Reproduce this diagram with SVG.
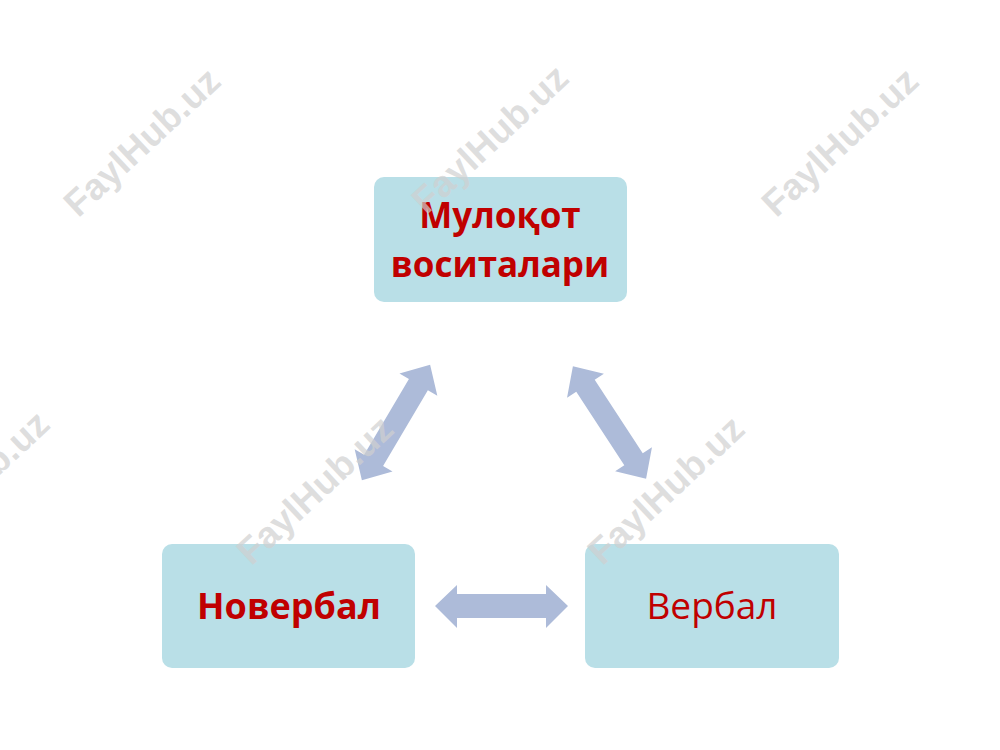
<svg xmlns="http://www.w3.org/2000/svg" width="1000" height="750" viewBox="0 0 1000 750">
<style>
.box{fill:#b9dfe7}
.lbl{font-family:"Open Sans","Noto Sans","DejaVu Sans",sans-serif;fill:#c00000;text-anchor:middle}
.b{font-weight:bold}
.arr{fill:#adbbd9}
.wm{font-family:"Liberation Sans","Arial",sans-serif;font-weight:bold;font-size:37px;fill:#d0d0d0;fill-opacity:0.7;text-anchor:middle;dominant-baseline:central}
</style>
<defs>
<path id="dbl" d="M -67 0 L -44 -22 L -44 -11 L 44 -11 L 44 -22 L 67 0 L 44 22 L 44 11 L -44 11 L -44 22 Z"/>
</defs>
<rect width="1000" height="750" fill="#ffffff"/>
<g id="node-top">
<rect class="box" x="374" y="177" width="253" height="125" rx="10"/>
<text class="lbl b" x="500" y="228" font-size="35">Мулоқот</text>
<text class="lbl b" x="500" y="277" font-size="35">воситалари</text>
</g>
<g id="node-left">
<rect class="box" x="162" y="544" width="253" height="124" rx="10"/>
<text class="lbl b" x="289" y="619" font-size="36">Новербал</text>
</g>
<g id="node-right">
<rect class="box" x="585" y="544" width="254" height="124" rx="10"/>
<text class="lbl" x="712" y="619" font-size="37">Вербал</text>
</g>
<g id="connectors">
<use class="arr" href="#dbl" transform="translate(396,422.5) rotate(-59.4)"/>
<use class="arr" href="#dbl" transform="translate(609.5,422.5) rotate(56.9)"/>
<path class="arr" d="M 435 606 L 457 585 L 457 594 L 546 594 L 546 585 L 568 606 L 546 628 L 546 618 L 457 618 L 457 628 Z"/>
</g>
<g id="watermarks">
<text class="wm" transform="translate(142,142) rotate(-43)">FaylHub.uz</text>
<text class="wm" transform="translate(490,139) rotate(-43)">FaylHub.uz</text>
<text class="wm" transform="translate(840,142) rotate(-43)">FaylHub.uz</text>
<text class="wm" transform="translate(-29,485) rotate(-43)">FaylHub.uz</text>
<text class="wm" transform="translate(315,490) rotate(-43)">FaylHub.uz</text>
<text class="wm" transform="translate(666,490) rotate(-43)">FaylHub.uz</text>
</g>
</svg>
